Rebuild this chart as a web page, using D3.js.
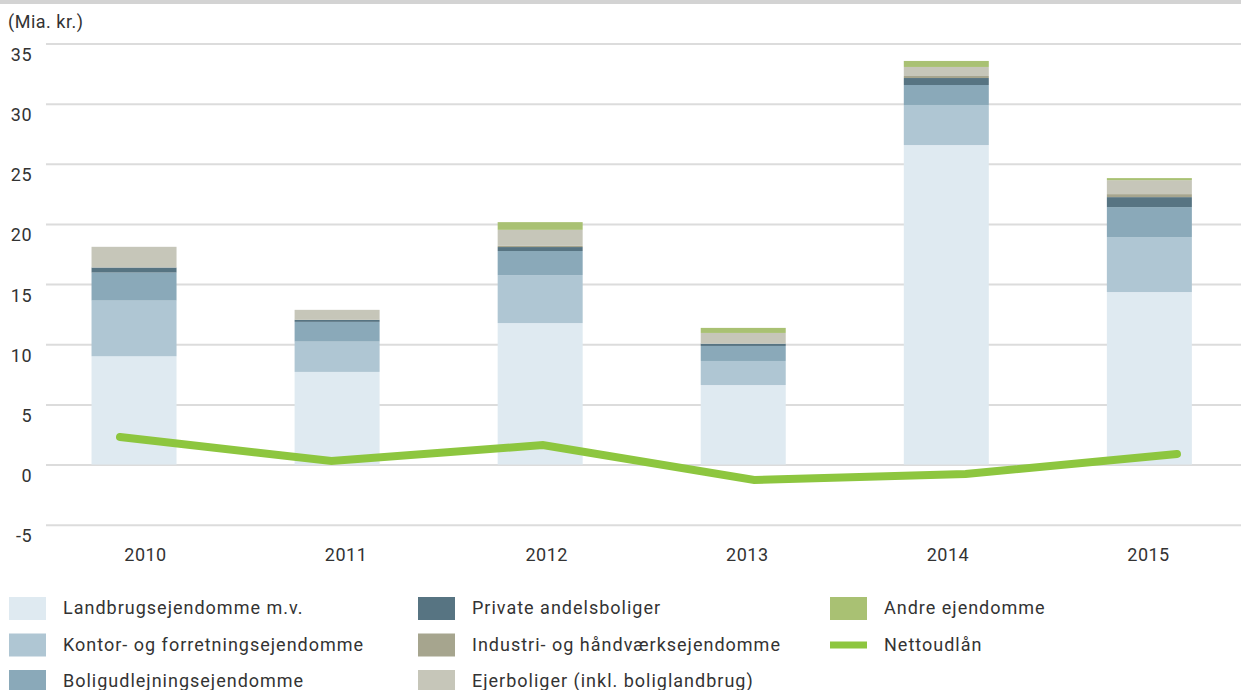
<!DOCTYPE html>
<html>
<head>
<meta charset="utf-8">
<script src="https://cdn.jsdelivr.net/npm/d3@7"></script>
<style>
  body { margin: 0; background: #fff; }
  svg text { font-family: Roboto, "Noto Sans", sans-serif; fill: #333; }
</style>
</head>
<body>
<div id="chart"></div>
<script>
// mortgage lending by property type, stacked bars + net lending line

const years = ['2010', '2011', '2012', '2013', '2014', '2015'];

const landbrug = [9.0, 7.7, 11.76, 6.61, 26.56, 14.34];
const kontor = [4.63, 2.52, 3.99, 2.0, 3.33, 4.57];
const boligudlejning = [2.33, 1.64, 2.0, 1.25, 1.66, 2.49];
const privateAndel = [0.42, 0.17, 0.33, 0.19, 0.58, 0.83];
const industri = [0.0, 0.0, 0.1, 0.0, 0.17, 0.25];
const ejerboliger = [1.72, 0.83, 1.33, 0.89, 0.75, 1.16];
const andre = [0.0, 0.0, 0.64, 0.42, 0.5, 0.17];
const nettoudlaan = [2.29, 0.29, 1.62, -1.29, -0.79, 0.87];

const yTicks = [-5, 0, 5, 10, 15, 20, 25, 30, 35];

const seriesNames = [
  'Landbrugsejendomme m.v.',
  'Kontor- og forretningsejendomme',
  'Boligudlejningsejendomme',
  'Private andelsboliger',
  'Industri- og håndværksejendomme',
  'Ejerboliger (inkl. boliglandbrug)',
  'Andre ejendomme'
];
const seriesValues = [landbrug, kontor, boligudlejning, privateAndel, industri, ejerboliger, andre];
const seriesColors = ['#dfeaf1', '#afc6d3', '#8aa9b9', '#577482', '#a6a58e', '#c6c6b9', '#a9c173'];
const lineName = 'Nettoudlån';
const lineColor = '#8dc63f';

const width = 1241, height = 690;

const svg = d3.select('#chart')
  .append('svg')
  .attr('width', width)
  .attr('height', height);

// top grey rule
svg.append('rect')
  .attr('x', 0).attr('y', 0)
  .attr('width', width).attr('height', 4)
  .attr('fill', '#d3d3d3');

// build table for stacking
const table = years.map((yr, i) => {
  const row = { year: yr };
  seriesNames.forEach((n, j) => { row[n] = seriesValues[j][i]; });
  return row;
});
const stacked = d3.stack().keys(seriesNames)(table);

// scales
const y = d3.scaleLinear()
  .domain([-5, 35])
  .range([524.7, 43.5]);

const x = d3.scaleBand()
  .domain(years)
  .range([32.5, 1250.9])
  .paddingInner(0.5814)
  .paddingOuter(0.2907);

const xLabel = d3.scalePoint()
  .domain(years)
  .range([145, 1148]);

const xLine = d3.scalePoint()
  .domain(years)
  .range([120, 1177]);

// gridlines + y labels
const yAxis = svg.append('g')
  .call(d3.axisLeft(y).tickValues(yTicks).tickSize(0).tickFormat(d => String(d)));
yAxis.select('.domain').remove();
yAxis.selectAll('.tick text')
  .attr('x', 32)
  .attr('dy', 17)
  .attr('text-anchor', 'end')
  .style('font-size', '18px')
  .style('letter-spacing', '0.5px')
  .style('font-family', 'Roboto, sans-serif')
  .attr('fill', '#333');
yAxis.selectAll('.tick')
  .append('line')
  .attr('x1', 46).attr('x2', width)
  .attr('stroke', '#dcdcdc')
  .attr('stroke-width', 2);

svg.append('text')
  .attr('x', 8)
  .attr('y', 28)
  .style('font-size', '18px')
  .style('letter-spacing', '0.5px')
  .text('(Mia. kr.)');

// bars
svg.append('g')
  .selectAll('g')
  .data(stacked)
  .join('g')
  .attr('fill', (d, i) => seriesColors[i])
  .selectAll('rect')
  .data(d => d)
  .join('rect')
  .attr('x', d => x(d.data.year))
  .attr('y', d => y(d[1]))
  .attr('width', x.bandwidth())
  .attr('height', d => y(d[0]) - y(d[1]));

// x labels
const xAxis = svg.append('g')
  .attr('transform', 'translate(0,558)')
  .call(d3.axisBottom(xLabel).tickSize(0));
xAxis.select('.domain').remove();
xAxis.selectAll('.tick text')
  .attr('dy', 0)
  .style('font-size', '18px')
  .style('letter-spacing', '0.5px')
  .style('font-family', 'Roboto, sans-serif')
  .attr('fill', '#333');

// net lending line
const line = d3.line()
  .x((d, i) => xLine(years[i]))
  .y(d => y(d));

svg.append('path')
  .datum(nettoudlaan)
  .attr('d', line)
  .attr('fill', 'none')
  .attr('stroke', lineColor)
  .attr('stroke-width', 8)
  .attr('stroke-linecap', 'round')
  .attr('stroke-linejoin', 'miter');

// legend
const legendItems = [
  { name: seriesNames[0], color: seriesColors[0], col: 0, row: 0 },
  { name: seriesNames[1], color: seriesColors[1], col: 0, row: 1 },
  { name: seriesNames[2], color: seriesColors[2], col: 0, row: 2 },
  { name: seriesNames[3], color: seriesColors[3], col: 1, row: 0 },
  { name: seriesNames[4], color: seriesColors[4], col: 1, row: 1 },
  { name: seriesNames[5], color: seriesColors[5], col: 1, row: 2 },
  { name: seriesNames[6], color: seriesColors[6], col: 2, row: 0 },
  { name: lineName, color: lineColor, col: 2, row: 1, line: true }
];
const colX = [9, 418, 830];

const legend = svg.append('g');
legendItems.forEach(item => {
  const gx = colX[item.col];
  const gy = 608 + item.row * 36.5;
  if (item.line) {
    legend.append('rect')
      .attr('x', gx).attr('y', gy - 3)
      .attr('width', 37).attr('height', 7)
      .attr('fill', item.color);
  } else {
    legend.append('rect')
      .attr('x', gx).attr('y', gy - 11)
      .attr('width', 37).attr('height', 23)
      .attr('fill', item.color);
  }
  legend.append('text')
    .attr('x', gx + 54)
    .attr('y', gy + 6)
    .style('font-size', '18px')
    .style('letter-spacing', '1px')
    .text(item.name);
});
</script>
</body>
</html>
